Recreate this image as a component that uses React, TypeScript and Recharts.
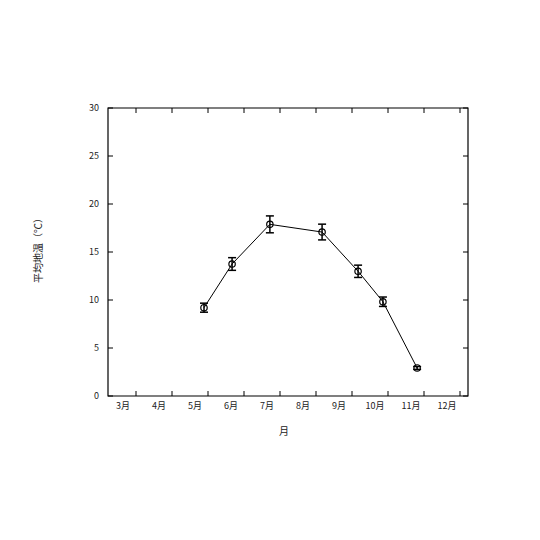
import React from 'react';
import { ComposedChart, Line, XAxis, YAxis, ErrorBar, ReferenceArea } from 'recharts';

// data
const monthPos = [5.25, 6.03, 7.08, 8.53, 9.53, 10.22, 11.17];
const soilTemp = [9.2, 13.75, 17.88, 17.08, 12.99, 9.82, 2.92];
const soilErr = [0.47, 0.66, 0.88, 0.82, 0.64, 0.49, 0.15];
const monthLabels = ['3月', '4月', '5月', '6月', '7月', '8月', '9月', '10月', '11月', '12月'];
const tickShift = 13 / 36;
const xTicks = monthLabels.map((_, i) => 3 + i + tickShift);
const yTicks = [0, 5, 10, 15, 20, 25, 30];
const xDomain: [number, number] = [3 - 15 / 36, 13 - 15 / 36];

const data = monthPos.map((m, i) => ({ m, t: soilTemp[i], err: soilErr[i] }));

const PW = 360;
const PH = 288;
const FONT = '"Noto Sans CJK JP", "DejaVu Sans", sans-serif';

const XTick = (props: any) => {
  const { x, y, index } = props;
  return (
    <g>
      <line x1={x} x2={x} y1={y} y2={y - 5} stroke="#000" strokeWidth={1} />
      <line x1={x} x2={x} y1={y - PH} y2={y - PH + 5} stroke="#000" strokeWidth={1} />
      <text x={x - 13} y={y + 13} textAnchor="middle" fontSize={9} fontFamily={FONT} fill="#222">
        {monthLabels[index]}
      </text>
    </g>
  );
};

const YTick = (props: any) => {
  const { x, y, payload } = props;
  return (
    <g>
      <line x1={x} x2={x + 5} y1={y} y2={y} stroke="#000" strokeWidth={1} />
      <line x1={x + PW - 5} x2={x + PW} y1={y} y2={y} stroke="#000" strokeWidth={1} />
      <text x={x - 9} y={y + 3} textAnchor="end" fontSize={9} fontFamily={FONT} fill="#222">
        {payload.value}
      </text>
    </g>
  );
};

const YLabel = (props: any) => {
  const { viewBox } = props;
  const cx = viewBox.x + 34;
  const cy = viewBox.y + viewBox.height / 2 - 4;
  return (
    <text
      x={cx}
      y={cy}
      transform={`rotate(-90 ${cx} ${cy})`}
      textAnchor="middle"
      fontSize={10}
      fontFamily={FONT}
      fill="#222"
    >
      平均地温（℃）
    </text>
  );
};

const XLabel = (props: any) => {
  const { viewBox } = props;
  const cx = viewBox.x + viewBox.width / 2 - 4;
  const cy = viewBox.y + 39;
  return (
    <text x={cx} y={cy} textAnchor="middle" fontSize={10} fontFamily={FONT} fill="#222">
      月
    </text>
  );
};

export default function App() {
  return (
    <div style={{ position: 'absolute', left: 0, top: 0, width: 540, height: 540, background: '#fff' }}>
      <ComposedChart
        width={540}
        height={540}
        data={data}
        margin={{ top: 108, right: 72, left: 8, bottom: 94 }}
      >
        <XAxis
          type="number"
          dataKey="m"
          domain={xDomain}
          ticks={xTicks}
          allowDataOverflow
          axisLine={false}
          tickLine={false}
          tickSize={0}
          tickMargin={0}
          height={50}
          tick={<XTick />}
          interval={0}
          label={<XLabel />}
        />
        <YAxis
          type="number"
          domain={[0, 30]}
          ticks={yTicks}
          axisLine={false}
          tickLine={false}
          tickSize={0}
          tickMargin={0}
          width={100}
          tick={<YTick />}
          interval={0}
          label={<YLabel />}
        />
        <ReferenceArea
          x1={xDomain[0]}
          x2={xDomain[1]}
          y1={0}
          y2={30}
          fill="none"
          fillOpacity={0}
          stroke="#000"
          strokeWidth={1.2}
          ifOverflow="visible"
        />
        <Line
          type="linear"
          dataKey="t"
          stroke="#000"
          strokeWidth={1}
          isAnimationActive={false}
          dot={{ r: 3.2, fill: 'none', stroke: '#000', strokeWidth: 1.2 }}
        >
          <ErrorBar dataKey="err" direction="y" width={4} stroke="#000" strokeWidth={1.5} />
        </Line>
      </ComposedChart>
    </div>
  );
}
